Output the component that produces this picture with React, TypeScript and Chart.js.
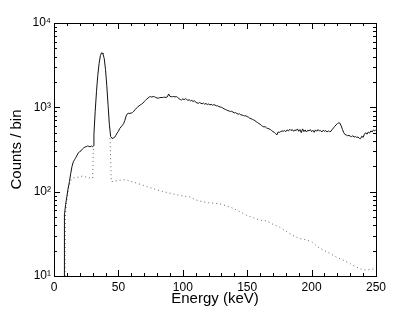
import React, { useEffect, useRef } from "react";
import { Chart, registerables } from "chart.js";

Chart.register(...registerables);

// Measured spectrum (solid)
const solidEnergy = [
  7.9, 8.1, 9, 10, 11, 12, 13, 14, 15, 16, 17, 18, 19, 20, 21, 22, 23, 24, 25, 26, 27, 28, 29, 30, 30.8,
  31, 32, 33, 34, 35, 36, 37, 37.5, 38, 39, 40, 41, 42, 43, 44, 45, 46, 47, 48, 49, 50,
  51, 52, 53, 54, 55, 56, 57, 58, 59, 60, 61, 62, 63, 64, 65, 66, 67, 68, 69, 70,
  71, 72, 73, 74, 75, 76, 77, 78, 79, 80, 81, 82, 83, 84, 85, 86, 87, 88, 89, 90,
  91, 92, 93, 94, 95, 96, 97, 98, 99, 100, 101, 102, 103, 104, 105, 106, 107, 108, 109, 110,
  111, 112, 113, 114, 115, 116, 117, 118, 119, 120, 121, 122, 123, 124, 125, 126, 127, 128, 129, 130,
  131, 132, 133, 134, 135, 136, 137, 138, 139, 140, 141, 142, 143, 144, 145, 146, 147, 148, 149, 150,
  151, 152, 153, 154, 155, 156, 157, 158, 159, 160, 161, 162, 163, 164, 165, 166, 167, 168, 169, 170,
  171, 172, 173, 174, 175, 176, 177, 178, 179, 180, 181, 182, 183, 184, 185, 186, 187, 188, 189, 190,
  191, 192, 193, 194, 195, 196, 197, 198, 199, 200, 201, 202, 203, 204, 205, 206, 207, 208, 209, 210,
  211, 212, 213, 214, 215, 216, 217, 218, 219, 220, 221, 222, 223, 224, 225, 226, 227, 228, 229, 230,
  231, 232, 233, 234, 235, 236, 237, 238, 239, 240, 241, 242, 243, 244, 245, 246, 247, 248, 249, 250,
];
const solidCounts = [
  10, 53, 70, 88, 110, 132, 165, 200, 226, 240, 255, 272, 290, 298, 305, 320, 330, 338, 342, 348, 345, 340, 348, 342, 350,
  480, 900, 1550, 2400, 3300, 4100, 4450, 4400, 4300, 3800, 2800, 1800, 1050, 620, 450, 428, 432, 440, 465, 495, 520,
  560, 585, 610, 640, 700, 790, 840, 850, 848, 855, 870, 900, 940, 980, 1010, 1040, 1070, 1090, 1120, 1170,
  1210, 1250, 1290, 1330, 1340, 1320, 1345, 1335, 1310, 1290, 1285, 1300, 1310, 1305, 1315, 1320, 1310, 1330, 1440, 1350,
  1340, 1335, 1345, 1330, 1340, 1310, 1270, 1240, 1220, 1260, 1230, 1270, 1240, 1210, 1230, 1190, 1210, 1170, 1200, 1150,
  1130, 1115, 1140, 1120, 1100, 1125, 1090, 1110, 1080, 1095, 1070, 1085, 1060, 1075, 1065, 1040, 1045, 1020, 1010, 1000,
  985, 960, 945, 930, 915, 905, 890, 900, 875, 860, 865, 845, 830, 838, 815, 810, 800, 790, 795, 775,
  765, 742, 735, 720, 710, 695, 676, 660, 645, 630, 610, 595, 585, 590, 570, 562, 555, 545, 530, 515,
  505, 490, 470, 510, 505, 515, 525, 520, 530, 515, 540, 525, 550, 530, 545, 520, 540, 530, 555, 520,
  545, 500, 555, 515, 540, 510, 535, 525, 545, 515, 535, 505, 540, 520, 545, 525, 530, 510, 535, 520,
  530, 510, 525, 515, 520, 545, 570, 595, 620, 640, 655, 650, 600, 545, 500, 475, 470, 460, 465, 455,
  450, 460, 445, 450, 440, 445, 430, 425, 455, 440, 480, 500, 480, 510, 495, 525, 510, 540, 525, 545,
];

// Background / continuum component (dotted)
const dottedEnergy = [
  8.5, 8.7, 9.5, 10.5, 11.5, 12.5, 13.5, 14.5, 16, 18, 20, 22, 24, 26, 28, 30, 30.6,
  37, 43.5, 44.5, 47, 50, 53, 56, 60, 65, 70, 75, 80, 85, 90, 95, 100, 105, 110, 115, 120, 125, 130, 135, 139,
  145, 150, 155, 160, 165, 170, 175, 180, 185, 190, 195, 200, 205, 210, 215, 220, 225, 230, 235, 240, 245, 248, 250,
];
const dottedCounts = [
  10, 45, 70, 95, 115, 130, 140, 145, 146, 148, 150, 153, 150, 148, 145, 144, 340,
  null, 430, 131, 133, 136, 138, 138, 132, 125, 118, 111, 105, 100, 96, 92, 89, 87, 80, 76, 74, 73, 71, 67, 63.5,
  57, 52, 49, 46, 45, 41, 38, 34, 30.5, 28, 27, 25.5, 22, 20, 18.3, 16.5, 15.3, 14, 12.7, 11.8, 11.9, 12.1, 12,
];

const xTicks = [0, 50, 100, 150, 200, 250];
const yTicks = [10, 100, 1000, 10000];
const yTickLabels = ["10\u00b9", "10\u00b2", "10\u00b3", "10\u2074"];

const FONT = "'Liberation Sans', Arial, Helvetica, sans-serif";

const framePlugin = {
  id: "frameTicks",
  afterDatasetsDraw(chart: any) {
    const { ctx, chartArea } = chart;
    const xs = chart.scales.x;
    const ys = chart.scales.y;
    const L = Math.round(chartArea.left);
    const R = Math.round(chartArea.right);
    const T = Math.round(chartArea.top);
    const B = Math.round(chartArea.bottom);
    ctx.save();
    ctx.strokeStyle = "#000";
    ctx.lineWidth = 1;
    ctx.beginPath();
    ctx.moveTo(L, T + 0.5);
    ctx.lineTo(R, T + 0.5);
    ctx.moveTo(L, B + 0.5);
    ctx.lineTo(R, B + 0.5);
    ctx.moveTo(L + 0.5, T);
    ctx.lineTo(L + 0.5, B + 1);
    ctx.moveTo(R + 0.5, T);
    ctx.lineTo(R + 0.5, B + 1);
    // x ticks
    for (let v = 0; v <= 250; v += 10) {
      const px = Math.round(xs.getPixelForValue(v)) + 0.5;
      const len = v % 50 === 0 ? 6 : 3;
      ctx.moveTo(px, B);
      ctx.lineTo(px, B - len);
      ctx.moveTo(px, T);
      ctx.lineTo(px, T + len);
    }
    // y ticks
    for (let d = 10; d < 10000; d *= 10) {
      for (let m = 1; m <= 9; m++) {
        const val = d * m;
        const py = Math.round(ys.getPixelForValue(val)) + 0.5;
        const len = m === 1 ? 6 : 3;
        ctx.moveTo(L, py);
        ctx.lineTo(L + len, py);
        ctx.moveTo(R, py);
        ctx.lineTo(R - len, py);
      }
    }
    ctx.stroke();
    ctx.restore();
  },
};

export default function App() {
  const ref = useRef<HTMLCanvasElement | null>(null);
  useEffect(() => {
    document.body.style.margin = "0";
    const canvas = ref.current;
    if (!canvas) return;
    const solid = solidEnergy.map((e, i) => ({ x: e, y: solidCounts[i] }));
    const dotted = dottedEnergy.map((e, i) => ({ x: e, y: dottedCounts[i] }));
    const chart = new Chart(canvas, {
      type: "line",
      data: {
        datasets: [
          {
            data: solid,
            borderColor: "#111",
            borderWidth: 1,
            pointRadius: 0,
            tension: 0,
          },
          {
            data: dotted as any,
            borderColor: "#666",
            borderWidth: 1,
            borderDash: [1, 3],
            pointRadius: 0,
            tension: 0,
            spanGaps: false,
          },
        ],
      },
      options: {
        animation: false,
        responsive: false,
        devicePixelRatio: 1,
        layout: { padding: { top: 23, right: 39, left: 0, bottom: 0 } },
        plugins: { legend: { display: false }, tooltip: { enabled: false } },
        scales: {
          x: {
            type: "linear",
            min: 0,
            max: 250,
            grid: { display: false, drawTicks: false },
            border: { display: false },
            afterBuildTicks: (s: any) => {
              s.ticks = xTicks.map((v) => ({ value: v }));
            },
            afterFit: (s: any) => {
              s.height = 37;
            },
            ticks: {
              color: "#000",
              padding: 4,
              autoSkip: false,
              maxRotation: 0,
              minRotation: 0,
              font: { family: FONT, size: 12 },
              callback: (v: any) => String(v),
            },
            title: {
              display: true,
              text: "Energy (keV)",
              color: "#000",
              font: { family: FONT, size: 15 },
              padding: { top: 0, bottom: 5 },
            },
          },
          y: {
            type: "logarithmic",
            min: 10,
            max: 10000,
            grid: { display: false, drawTicks: false },
            border: { display: false },
            afterBuildTicks: (s: any) => {
              s.ticks = yTicks.map((v) => ({ value: v }));
            },
            afterFit: (s: any) => {
              s.width = 54;
            },
            ticks: {
              color: "#000",
              padding: 3,
              autoSkip: false,
              font: { family: FONT, size: 12 },
              callback: (v: any) => {
                const i = yTicks.indexOf(Number(v));
                return i >= 0 ? yTickLabels[i] : "";
              },
            },
            title: {
              display: true,
              text: "Counts / bin",
              color: "#000",
              font: { family: FONT, size: 15 },
              padding: { top: 8, bottom: 0 },
            },
          },
        },
      },
      plugins: [framePlugin],
    });
    return () => chart.destroy();
  }, []);
  return (
    <div style={{ width: 415, height: 313, background: "#fff" }}>
      <canvas ref={ref} width={415} height={313} style={{ display: "block", width: 415, height: 313 }} />
    </div>
  );
}
